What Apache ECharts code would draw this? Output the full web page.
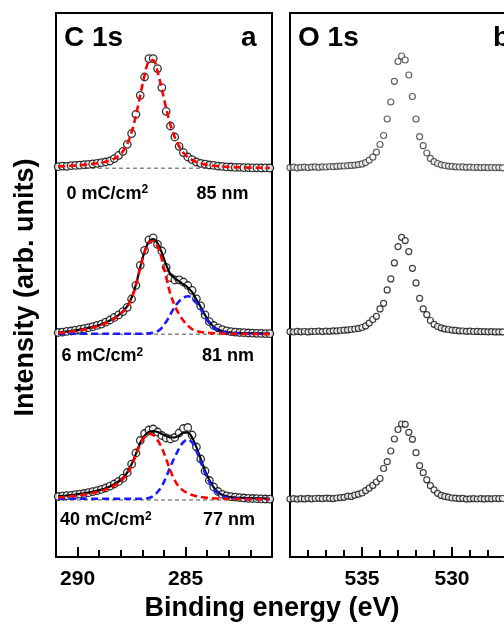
<!DOCTYPE html>
<html><head><meta charset="utf-8">
<script src="https://cdn.jsdelivr.net/npm/echarts@6/dist/echarts.min.js"></script>
<style>html,body{margin:0;padding:0;background:#fff;overflow:hidden}#c{width:504px;height:626px}</style>
</head><body><div id="c"></div>
<script>
// ---- C 1s (panel a) ----
const cEnergy = [290.9,290.7,290.5,290.3,290.1,289.9,289.7,289.5,289.3,289.1,
  288.9,288.7,288.5,288.3,288.1,287.9,287.7,287.5,287.3,287.1,
  286.9,286.7,286.5,286.3,286.1,285.9,285.7,285.5,285.3,285.1,
  284.9,284.7,284.5,284.3,284.1,283.9,283.7,283.5,283.3,283.1,
  282.9,282.7,282.5,282.3,282.1,281.9,281.7,281.5,281.3,281.1];
// 0 mC/cm2
const c0Data = [1.6,2.2,2.0,2.6,2.9,3.1,3.6,3.9,4.4,5.0,
  5.6,6.3,7.3,9.7,13.0,17.0,24.0,34.7,54.0,73.0,
  91.3,109.7,109.7,99.7,80.7,57.0,42.3,31.3,22.0,15.7,
  11.3,8.7,6.3,5.0,4.1,3.3,2.9,2.2,1.9,1.4,
  1.3,0.9,1.0,0.6,0.7,0.4,0.5,0.3,0.5,0.3];
const c0Fit = [1.8,2.0,2.2,2.5,2.8,3.1,3.5,3.9,4.4,5.0,
  5.7,6.6,7.8,9.6,12.5,17.0,24.5,36.0,53.0,73.0,
  93.0,107.0,108.0,97.0,79.0,60.0,43.5,31.0,22.0,15.5,
  11.2,8.3,6.3,4.9,3.9,3.2,2.6,2.2,1.8,1.5,
  1.3,1.1,0.9,0.8,0.7,0.6,0.5,0.5,0.4,0.4];
// 6 mC/cm2
const c1Data = [1.8,2.2,2.9,3.3,4.1,5.0,5.6,6.6,7.6,8.9,
  10.2,12.1,14.3,16.9,19.4,22.7,27.0,35.3,49.0,69.0,
  84.0,94.5,96.5,90.0,83.3,67.0,56.6,54.3,54.5,52.3,
  48.8,44.0,35.5,28.4,19.5,12.6,8.8,6.4,4.6,3.4,
  2.6,2.2,1.8,1.6,1.3,1.2,1.0,0.9,0.7,0.6];
const c1Red = [1.4,1.7,2.2,2.7,3.3,4.1,4.9,5.8,6.8,8.0,
  9.4,11.1,13.2,15.7,18.7,22.5,27.5,36.0,49.0,66.5,
  82.0,91.5,93.5,88.0,75.0,57.0,40.0,28.5,20.0,13.5,
  8.8,5.2,3.2,2.3,1.7,1.3,1.1,0.9,0.8,0.7,
  0.6,0.5,0.5,0.4,0.4,0.3,0.3,0.3,0.2,0.2];
const c1Blue = [0.6,0.6,0.6,0.6,0.6,0.6,0.6,0.6,0.6,0.6,
  0.6,0.6,0.6,0.6,0.6,0.6,0.6,0.6,0.6,0.6,
  0.7,0.9,1.6,3.0,6.5,12.5,20.0,27.5,33.0,36.5,
  38.0,37.0,31.5,25.0,17.5,11.0,6.5,3.8,2.3,1.6,
  1.2,1.0,0.9,0.8,0.7,0.7,0.6,0.6,0.5,0.5];
const c1Total = [2.0,2.3,2.8,3.3,3.9,4.7,5.5,6.4,7.4,8.6,
  10.0,11.7,13.8,16.3,19.3,23.1,28.1,36.6,49.6,67.1,
  82.7,92.4,95.1,91.0,81.5,69.5,60.0,56.0,53.0,50.0,
  46.8,42.2,34.7,27.3,19.2,12.3,7.6,4.7,3.1,2.3,
  1.8,1.5,1.4,1.2,1.1,1.0,0.9,0.9,0.7,0.7];
// 40 mC/cm2
const c2Data = [3.5,3.9,4.3,4.7,5.3,5.8,6.5,7.3,8.3,9.4,
  10.6,12.0,13.9,16.0,18.6,21.8,27.5,35.8,47.0,59.5,
  66.5,70.0,71.0,68.0,64.5,62.0,61.0,62.5,67.0,71.5,
  72.5,65.0,53.0,41.0,29.0,19.5,13.0,8.5,5.6,4.2,
  3.3,2.8,2.3,2.0,1.7,1.5,1.3,1.2,1.0,0.9];
const c2Red = [2.5,2.9,3.3,3.8,4.3,4.9,5.5,6.2,7.0,8.0,
  9.2,10.6,12.3,14.5,17.3,21.0,26.5,34.5,45.0,56.0,
  63.0,66.0,65.0,60.0,52.0,41.0,29.0,19.5,13.0,9.3,
  6.8,5.0,3.8,3.0,2.4,2.0,1.7,1.5,1.3,1.2,
  1.1,1.0,0.9,0.9,0.8,0.8,0.7,0.7,0.6,0.6];
const c2Blue = [1.2,1.2,1.2,1.2,1.2,1.2,1.2,1.2,1.2,1.2,
  1.2,1.2,1.2,1.2,1.2,1.2,1.2,1.2,1.2,1.2,
  1.4,2.0,4.0,8.0,14.0,23.0,33.5,43.0,51.5,58.0,
  60.5,57.5,49.0,38.0,27.0,18.0,11.0,6.5,3.8,2.5,
  1.8,1.5,1.3,1.2,1.1,1.0,1.0,0.9,0.9,0.8];
const c2Total = [3.7,4.1,4.5,5.0,5.5,6.1,6.7,7.4,8.2,9.2,
  10.4,11.8,13.5,15.7,18.5,22.2,27.7,35.7,46.2,57.2,
  64.4,68.0,69.0,68.0,66.0,64.0,62.5,62.5,64.5,67.3,
  67.3,62.5,52.8,41.0,29.4,20.0,12.7,8.0,5.1,3.7,
  2.9,2.5,2.2,2.1,1.9,1.8,1.7,1.6,1.5,1.4];
const cBgEnergy = [291, 281];
const cBgIntensity = [0, 0];
const cOffsets = [388.7, 222.7, 57];

// ---- O 1s (panel b) ----
const oEnergy = [539.0,538.8,538.6,538.4,538.2,538.0,537.8,537.6,537.4,537.2,
  537.0,536.8,536.6,536.4,536.2,536.0,535.8,535.6,535.4,535.2,
  535.0,534.8,534.6,534.4,534.2,534.0,533.8,533.6,533.4,533.2,
  533.0,532.8,532.6,532.4,532.2,532.0,531.8,531.6,531.4,531.2,
  531.0,530.8,530.6,530.4,530.2,530.0,529.8,529.6,529.4,529.2,
  529.0,528.8,528.6,528.4,528.2,528.0,527.8,527.6,527.4,527.2];
const o0Data = [0.3,0.8,0.2,0.6,0.9,0.4,0.9,1.1,0.7,1.2,
  1.0,1.5,1.3,1.7,1.9,2.0,2.4,2.6,2.9,3.3,
  4.1,5.4,7.8,10.8,15.8,23.5,32.5,49.0,66.0,86.7,
  106.5,112.0,108.0,93.0,71.5,49.0,31.3,22.3,15.0,9.6,
  6.3,4.5,3.2,2.5,1.9,1.6,1.2,1.0,1.1,0.7,
  0.8,0.5,0.7,0.4,0.6,0.3,0.5,0.3,0.4,0.2];
const o1Data = [0.6,0.3,0.9,0.5,0.8,0.4,1.0,0.8,1.1,0.7,
  1.2,1.0,1.5,1.4,1.8,2.1,2.4,2.8,3.3,3.9,
  4.8,6.4,9.2,12.8,16.0,23.4,29.0,42.4,53.4,69.4,
  85.7,95.0,91.7,80.7,64.0,49.4,34.0,23.4,17.6,11.8,
  8.0,5.8,4.4,3.4,2.8,2.2,1.9,1.5,1.3,1.0,
  1.1,0.8,0.9,0.6,0.7,0.5,0.6,0.4,0.5,0.4];
const o2Data = [1.0,1.3,0.9,1.4,1.1,1.6,1.2,1.5,1.7,1.3,
  1.8,1.6,1.4,2.0,2.4,2.7,3.8,3.6,4.8,5.8,
  7.0,9.3,11.8,14.6,18.0,21.5,31.5,38.3,49.0,61.0,
  70.5,76.0,75.7,67.7,60.7,47.3,34.3,27.3,20.2,14.3,
  10.2,6.7,4.6,3.6,2.8,2.0,1.8,1.4,1.6,0.9,
  1.2,1.4,1.0,1.3,1.1,1.4,1.2,1.5,1.3,1.5];
const oOffsets = [389, 224.7, 57];

// ---- axes ----
const cRange = [281, 291];
const oRange = [526.2, 539];
const cMajorTicks = [285, 290];
const cMinorTicks = [282, 283, 284, 286, 287, 288, 289];
const oMajorTicks = [530, 535];
const oMinorTicks = [527, 528, 529, 531, 532, 533, 534, 536, 537, 538];

const sampleDoses = ['0', '6', '40'];
const thicknessLabels = ['85 nm', '81 nm', '77 nm'];

const FONT = "'Liberation Sans', Arial, Helvetica, sans-serif";
function pts(xs, ys, off) { return xs.map((x, i) => [x, ys[i] + off]); }

function xMajor(g, r, ticks) {
  return { gridIndex: g, type: 'value', min: r[0], max: r[1], inverse: true, position: 'bottom',
    axisLine: { show: false }, splitLine: { show: false },
    axisTick: { show: true, inside: true, length: 10, lineStyle: { color: '#000', width: 2 }, customValues: ticks },
    axisLabel: { show: true, customValues: ticks, color: '#000', fontFamily: FONT, fontWeight: 'bold', fontSize: 21, margin: 12 } };
}
function xMinor(g, r, ticks) {
  return { gridIndex: g, type: 'value', min: r[0], max: r[1], inverse: true, position: 'bottom',
    axisLine: { show: false }, splitLine: { show: false },
    axisTick: { show: true, inside: true, length: 7, lineStyle: { color: '#000', width: 2 }, customValues: ticks },
    axisLabel: { show: false } };
}

const series = [];
function bg(off) {
  series.push({ type: 'line', xAxisIndex: 0, yAxisIndex: 0, data: pts(cBgEnergy, cBgIntensity, off),
    showSymbol: false, silent: true, z: 1, lineStyle: { color: '#8a8a8a', width: 1.6, type: [4, 3] } });
}
function dots(xi, yi, xs, ys, off, size, col, bw) {
  series.push({ type: 'scatter', xAxisIndex: xi, yAxisIndex: yi, data: pts(xs, ys, off), symbol: 'circle',
    symbolSize: size, silent: true, z: 2, itemStyle: { color: '#fff', borderColor: col, borderWidth: bw } });
}
function curve(xs, ys, off, col, w, dash, z) {
  series.push({ type: 'line', xAxisIndex: 0, yAxisIndex: 0, data: pts(xs, ys, off), showSymbol: false,
    smooth: 0.35, silent: true, z: z, lineStyle: { color: col, width: w, type: dash } });
}
const RED = '#ff0000', BLUE = '#1a1aff';
// top
bg(cOffsets[0]);
dots(0, 0, cEnergy, c0Data, cOffsets[0], 7.5, '#000', 1.3);
curve(cEnergy, c0Fit, cOffsets[0], RED, 2.6, [7, 4], 6);
// middle
bg(cOffsets[1]);
dots(0, 0, cEnergy, c1Data, cOffsets[1], 7.5, '#000', 1.3);
curve(cEnergy, c1Total, cOffsets[1], '#000', 2.2, 'solid', 3);
curve(cEnergy, c1Blue, cOffsets[1], BLUE, 2.6, [7, 4], 5);
curve(cEnergy, c1Red, cOffsets[1], RED, 2.6, [7, 4], 6);
// bottom
bg(cOffsets[2]);
dots(0, 0, cEnergy, c2Data, cOffsets[2], 7.5, '#000', 1.3);
curve(cEnergy, c2Total, cOffsets[2], '#000', 2.2, 'solid', 3);
curve(cEnergy, c2Blue, cOffsets[2], BLUE, 2.6, [7, 4], 5);
curve(cEnergy, c2Red, cOffsets[2], RED, 2.6, [7, 4], 6);
// O 1s
dots(2, 1, oEnergy, o0Data, oOffsets[0], 6, '#3a3a3a', 1.2);
dots(2, 1, oEnergy, o1Data, oOffsets[1], 6, '#111', 1.2);
dots(2, 1, oEnergy, o2Data, oOffsets[2], 6, '#111', 1.2);

function txt(text, x, y, size, align, rot) {
  return { type: 'text', x: x, y: y, rotation: rot || 0, silent: true, z: 10,
    style: { text: text, fill: '#000', font: 'bold ' + size + 'px ' + FONT, textAlign: align, textVerticalAlign: 'middle' } };
}
function doseTxt(dose, x, y) {
  return { type: 'text', x: x, y: y, silent: true, z: 10,
    style: { text: '{n|' + dose + ' mC/cm}{s|2}', fill: '#000', textAlign: 'left', textVerticalAlign: 'middle',
      rich: {
        n: { fontFamily: FONT, fontWeight: 'bold', fontSize: 18, lineHeight: 20, fill: '#000' },
        s: { fontFamily: FONT, fontWeight: 'bold', fontSize: 12, lineHeight: 12, verticalAlign: 'top', fill: '#000' }
      } } };
}

const chart = echarts.init(document.getElementById('c'), null, { renderer: 'canvas' });
chart.setOption({
  animation: false,
  backgroundColor: '#fff',
  grid: [
    { left: 56, top: 13, width: 216, height: 544, show: true, borderColor: '#000', borderWidth: 2, backgroundColor: 'transparent', outerBoundsMode: 'none', containLabel: false },
    { left: 290, top: 13, width: 230.4, height: 544, show: true, borderColor: '#000', borderWidth: 2, backgroundColor: 'transparent', outerBoundsMode: 'none', containLabel: false }
  ],
  xAxis: [ xMajor(0, cRange, cMajorTicks), xMinor(0, cRange, cMinorTicks), xMajor(1, oRange, oMajorTicks), xMinor(1, oRange, oMinorTicks) ],
  yAxis: [
    { gridIndex: 0, type: 'value', min: 0, max: 544, show: false },
    { gridIndex: 1, type: 'value', min: 0, max: 544, show: false }
  ],
  series: series,
  graphic: [
    txt('C 1s', 64, 38, 28, 'left'),
    txt('a', 256.5, 38, 28, 'right'),
    txt('O 1s', 298, 38, 28, 'left'),
    txt('b', 493, 38, 28, 'left'),
    doseTxt(sampleDoses[0], 66.5, 194),
    txt(thicknessLabels[0], 196.5, 194, 18, 'left'),
    doseTxt(sampleDoses[1], 61.5, 356.5),
    txt(thicknessLabels[1], 202, 356.5, 18, 'left'),
    doseTxt(sampleDoses[2], 60, 520.5),
    txt(thicknessLabels[2], 203, 520.5, 18, 'left'),
    txt('Intensity (arb. units)', 25.5, 287.5, 27, 'center', Math.PI / 2),
    txt('Binding energy (eV)', 272, 608.5, 27, 'center')
  ]
});
</script>
</body></html>
